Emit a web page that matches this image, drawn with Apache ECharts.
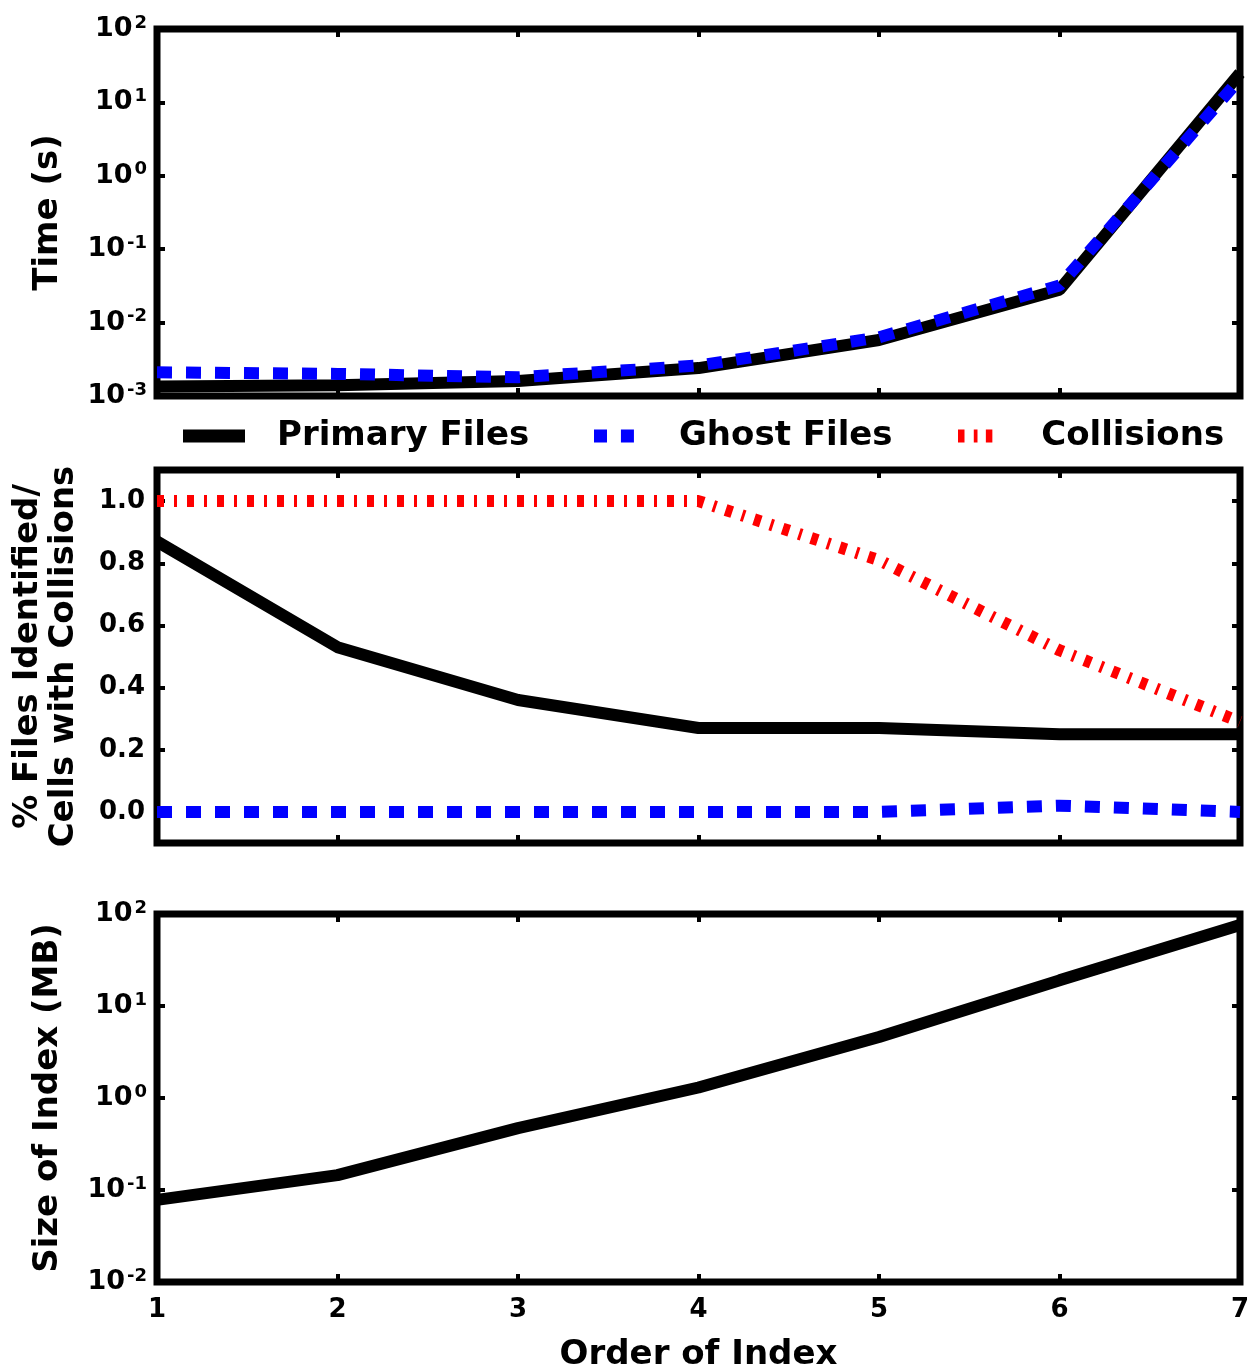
<!DOCTYPE html>
<html>
<head>
<meta charset="utf-8">
<script src="https://cdn.jsdelivr.net/npm/echarts@6/dist/echarts.min.js"></script>
<style>
  html, body { margin: 0; padding: 0; background: #fff; }
  #chart { width: 1251px; height: 1369px; }
</style>
</head>
<body>
<div id="chart"></div>
<script>
// order of index (x values, shared by all panels)
const order = [1, 2, 3, 4, 5, 6, 7];

// top panel: time (s), log scale
const timePrimary = [0.00135, 0.0014, 0.0016, 0.0024, 0.0058, 0.028, 25];
const timeGhost = [0.0021, 0.002, 0.0018, 0.0026, 0.0063, 0.032, 21];

// middle panel: fraction identified / cells with collisions
const pctPrimary = [0.87, 0.53, 0.36, 0.27, 0.27, 0.25, 0.25];
const pctGhost = [0.0, 0.0, 0.0, 0.0, 0.0, 0.02, 0.0];
const pctCollisions = [1.0, 1.0, 1.0, 1.0, 0.81, 0.52, 0.29];

// bottom panel: index size (MB), log scale
const sizePrimary = [0.078, 0.145, 0.47, 1.3, 4.6, 19, 76];

const midTicks = [0.0, 0.2, 0.4, 0.6, 0.8, 1.0];

const FONT = 'DejaVu Sans';
const pairs = (ys) => order.map((x, i) => [x, ys[i]]);

const myChart = echarts.init(document.getElementById('chart'));

const gridBox = [
    {left: 157, right: 11, top: 29, height: 367},
    {left: 157, right: 11, top: 470, height: 373},
    {left: 157, right: 11, top: 914, height: 368}
];

const tickStyle = {show: true, inside: true, length: 8, lineStyle: {color: '#000', width: 4}};

const logLabel = {
    fontFamily: FONT,
    fontWeight: 'bold',
    fontSize: 27,
    color: '#000',
    margin: 10,
    formatter: function (v) {
        const e = Math.round(Math.log10(v));
        return '{b|10}{s|' + e + '}';
    },
    rich: {
        b: {fontFamily: FONT, fontWeight: 'bold', fontSize: 27, color: '#000'},
        s: {fontFamily: FONT, fontWeight: 'bold', fontSize: 18, color: '#000', verticalAlign: 'top', padding: [0, 0, 12, 2]}
    }
};

const nameStyle = {fontFamily: FONT, fontWeight: 'bold', fontSize: 34, color: '#000'};

function xBottom(gi, showLabels) {
    return {
        type: 'value', gridIndex: gi, min: 1, max: 7, interval: 1,
        axisLine: {show: false, onZero: false}, splitLine: {show: false},
        axisTick: tickStyle,
        axisLabel: {show: showLabels, fontFamily: FONT, fontWeight: 'bold', fontSize: 26, color: '#000', margin: 15},
        name: showLabels ? 'Order of Index' : '',
        nameLocation: 'middle', nameGap: 56, nameTextStyle: nameStyle
    };
}
function xTop(gi) {
    return {
        type: 'value', gridIndex: gi, position: 'top', min: 1, max: 7, interval: 1,
        axisLine: {show: false, onZero: false}, splitLine: {show: false},
        axisTick: tickStyle, axisLabel: {show: false}
    };
}
function yLog(gi, min, max, name, right) {
    return {
        type: 'log', logBase: 10, gridIndex: gi, min: min, max: max, interval: 1,
        position: right ? 'right' : 'left',
        axisLine: {show: false, onZero: false}, splitLine: {show: false},
        axisTick: tickStyle,
        axisLabel: right ? {show: false} : logLabel,
        name: right ? '' : name, nameLocation: 'middle', nameGap: 92, nameTextStyle: nameStyle
    };
}
function yMid(right) {
    return {
        type: 'value', gridIndex: 1, min: -0.1, max: 1.1,
        position: right ? 'right' : 'left',
        axisLine: {show: false, onZero: false}, splitLine: {show: false},
        axisTick: Object.assign({customValues: midTicks}, tickStyle),
        axisLabel: right ? {show: false} : {
            customValues: midTicks,
            fontFamily: FONT, fontWeight: 'bold', fontSize: 26, color: '#000', margin: 12,
            formatter: (v) => v.toFixed(1)
        },
        name: right ? '' : '% Files Identified/\nCells with Collisions',
        nameLocation: 'middle', nameGap: 75,
        nameTextStyle: Object.assign({lineHeight: 36}, nameStyle)
    };
}

const solid = {color: '#000', width: 12, type: 'solid', cap: 'butt'};
const blueDash = {color: '#0000ff', width: 12, type: [15, 14], cap: 'butt'};
const redDashDot = {color: '#ff0000', width: 12, type: [7, 10, 3, 10], cap: 'butt'};

function line(name, xi, yi, data, style, z) {
    return {
        name: name, type: 'line', xAxisIndex: xi, yAxisIndex: yi,
        data: data, showSymbol: false, symbol: 'none', smooth: false,
        lineStyle: style, itemStyle: {color: style.color}, z: z, silent: true,
        animation: false
    };
}

function legendAt(left, width, gap, name, icon) {
    return {
        top: 414, left: left, orient: 'horizontal',
        itemWidth: width, itemHeight: 13, selectedMode: false,
        textStyle: {fontFamily: FONT, fontWeight: 'bold', fontSize: 34, color: '#000', padding: [0, 0, 0, gap]},
        data: [{name: name, icon: icon}]
    };
}

const option = {
    animation: false,
    backgroundColor: '#fff',
    grid: gridBox.map(g => Object.assign({
        show: true, borderColor: '#000', borderWidth: 7, backgroundColor: 'transparent',
        containLabel: false, outerBoundsMode: 'none'
    }, g)),
    legend: [
        legendAt(178, 62, 27, 'Primary Files', 'rect'),
        legendAt(589, 44, 38, 'Ghost Files', 'path://M0,0H14V14H0Z M29,0H43V14H29Z'),
        legendAt(953, 42, 40, 'Collisions', 'path://M0,0H7V14H0Z M17,0H21V14H17Z M30,0H37V14H30Z')
    ],
    xAxis: [xBottom(0, false), xBottom(1, false), xBottom(2, true), xTop(0), xTop(1), xTop(2)],
    yAxis: [
        yLog(0, 0.001, 100, 'Time (s)', false),
        yMid(false),
        yLog(2, 0.01, 100, 'Size of Index (MB)', false),
        yLog(0, 0.001, 100, '', true),
        yMid(true),
        yLog(2, 0.01, 100, '', true)
    ],
    series: [
        line('Primary Files', 0, 0, pairs(timePrimary), solid, 2),
        line('Ghost Files', 0, 0, pairs(timeGhost), blueDash, 3),
        line('Primary Files', 1, 1, pairs(pctPrimary), solid, 2),
        line('Ghost Files', 1, 1, pairs(pctGhost), blueDash, 3),
        line('Collisions', 1, 1, pairs(pctCollisions), redDashDot, 3),
        line('Primary Files', 2, 2, pairs(sizePrimary), solid, 2)
    ]
};

myChart.setOption(option);
window.addEventListener('resize', function () {
    myChart.resize();
});
</script>
</body>
</html>
